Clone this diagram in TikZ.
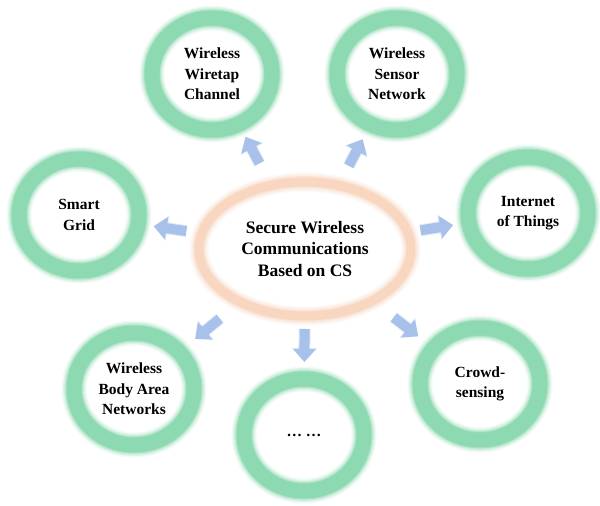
\documentclass[tikz,border=0pt]{standalone}
\usepackage{fontspec}
\setmainfont{Liberation Serif}
\usetikzlibrary{shapes.geometric,arrows.meta,calc}
\definecolor{ringgreen}{HTML}{8DD9B1}
\definecolor{ringorange}{HTML}{F8D6C0}
\definecolor{arrowblue}{HTML}{A7C1EA}
\begin{document}
\begin{tikzpicture}[x=1pt,y=-1pt,
  ring/.style={ellipse, minimum width=120pt, minimum height=112pt, inner sep=0pt,
    align=center, text=black,
    font=\fontsize{15.5pt}{20.5pt}\selectfont\bfseries,
    draw=ringgreen, line width=15pt,
    preaction={draw=ringgreen, draw opacity=0.12, line width=25pt},
    preaction={draw=ringgreen, draw opacity=0.18, line width=22pt},
    preaction={draw=ringgreen, draw opacity=0.28, line width=19.5pt},
    preaction={draw=ringgreen, draw opacity=0.45, line width=17pt}},
  hub/.style={ellipse, minimum width=212pt, minimum height=134pt, inner sep=0pt,
    align=center, text=black,
    font=\fontsize{17.5pt}{21.5pt}\selectfont\bfseries,
    draw=ringorange, line width=9pt,
    preaction={draw=ringorange, draw opacity=0.15, line width=19pt},
    preaction={draw=ringorange, draw opacity=0.25, line width=15.5pt},
    preaction={draw=ringorange, draw opacity=0.4, line width=12pt}},
  fatarr/.style={draw=arrowblue, line width=10pt,
    -{Triangle[width=22pt,length=13pt]},
    preaction={draw=arrowblue, draw opacity=0.3, line width=12pt, -{Triangle[width=25pt,length=14pt]}}}
]
\useasboundingbox[fill=white] (0,0) rectangle (600,506);

\node[hub] (ctr) at (305,249) {Secure Wireless\\Communications\\Based on CS};

\node[ring] (A) at (212,74) {Wireless\\Wiretap\\Channel};
\node[ring] (B) at (397,74) {Wireless\\Sensor\\Network};
\node[ring] (C) at (79,215) {Smart\\Grid};
\node[ring] (D) at (528,213) {Internet\\of Things};
\node[ring] (E) at (480,384) {Crowd-\\sensing};
\node[ring] (F) at (304,435) {\raisebox{-4pt}{… …}};
\node[ring] (G) at (134,389) {Wireless\\Body Area\\Networks};

\draw[fatarr] ($(ctr)!97pt!(A)$) -- ($(ctr)!127pt!(A)$);
\draw[fatarr] ($(ctr)!94pt!(B)$) -- ($(ctr)!124pt!(B)$);
\draw[fatarr] ($(ctr)!120pt!(C)$) -- ($(ctr)!153pt!(C)$);
\draw[fatarr] ($(ctr)!117pt!(D)$) -- ($(ctr)!150pt!(D)$);
\draw[fatarr] ($(ctr)!112pt!(E)$) -- ($(ctr)!143pt!(E)$);
\draw[fatarr] ($(ctr)!80pt!(F)$) -- ($(ctr)!113pt!(F)$);
\draw[fatarr] ($(ctr)!110pt!(G)$) -- ($(ctr)!142pt!(G)$);
\end{tikzpicture}
\end{document}
